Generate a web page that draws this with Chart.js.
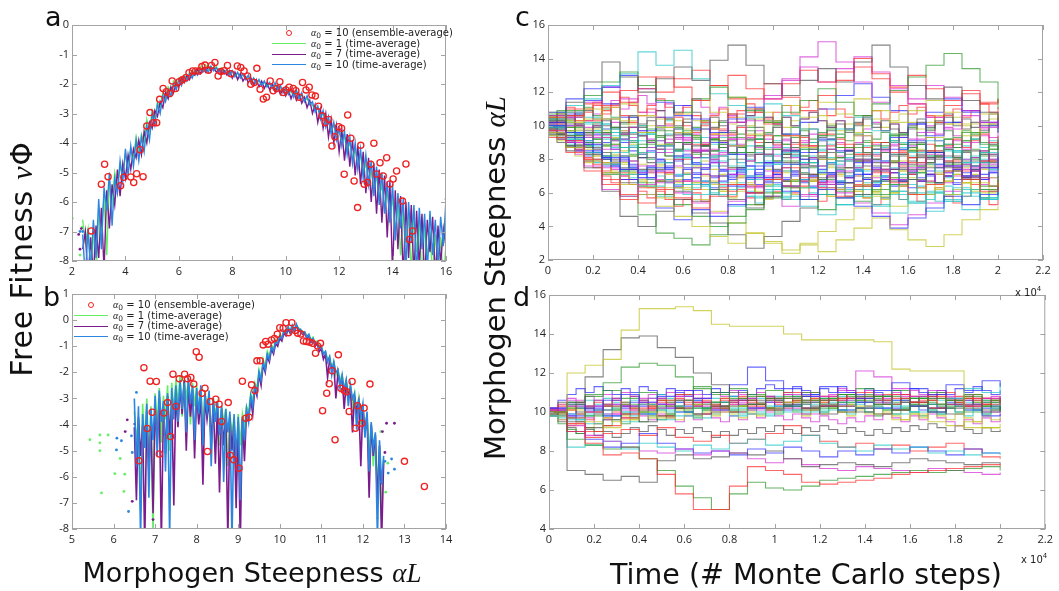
<!DOCTYPE html>
<html>
<head>
<meta charset="utf-8">
<script src="https://cdn.jsdelivr.net/npm/chart.js@4.4.0/dist/chart.umd.min.js"></script>
<style>
  body { margin:0; background:#fff; }
  #wrap { position:relative; width:1059px; height:591px; overflow:hidden; font-family:"DejaVu Sans", sans-serif; color:#111; }
  canvas { position:absolute; }
  .lbl { position:absolute; white-space:nowrap; font-size:27px; line-height:1; }
  .rot { transform:translate(-50%,-50%) rotate(-90deg); }
  .ctr { transform:translate(-50%,-50%); }
  .math { font-family:"Liberation Serif", serif; font-style:italic; }
  .panel { position:absolute; font-size:27px; line-height:1; }
  .leg { position:absolute; font-size:10px; color:#222; }
  .leg .row { height:10.5px; line-height:10.5px; display:flex; align-items:center; white-space:nowrap; }
  .leg .smp { width:34px; margin-right:5px; display:flex; justify-content:center; align-items:center; }
  .leg .ln { width:34px; height:0; border-top:1.5px solid; }
  .leg .ring { width:4px; height:4px; border:1.3px solid #ee2222; border-radius:50%; }
  .leg sub { font-size:0.75em; vertical-align:-2px; line-height:0; }
  .expo { position:absolute; font-size:10px; color:#222; white-space:nowrap; }
  .expo sup { font-size:7px; vertical-align:5px; line-height:0; }
</style>
</head>
<body>
<div id="wrap">
  <canvas id="cA" width="420" height="275" style="left:40px;top:10px"></canvas>
  <canvas id="cB" width="420" height="272" style="left:40px;top:282px"></canvas>
  <canvas id="cC" width="541" height="275" style="left:515px;top:10px"></canvas>
  <canvas id="cD" width="542" height="272" style="left:515px;top:284px"></canvas>

  <div class="panel" style="left:45px;top:3px">a</div>
  <div class="panel" style="left:43px;top:283px">b</div>
  <div class="panel" style="left:515px;top:3px">c</div>
  <div class="panel" style="left:513px;top:283px">d</div>

  <div class="lbl rot" style="left:22px;top:259px;font-size:30px;letter-spacing:0.8px">Free Fitness <span class="math">ν</span>Φ</div>
  <div class="lbl ctr" style="left:252px;top:573px">Morphogen Steepness <span class="math">αL</span></div>
  <div class="lbl rot" style="left:495px;top:278px;font-size:29px">Morphogen Steepness <span class="math">αL</span></div>
  <div class="lbl ctr" style="left:806px;top:575px;font-size:28.5px">Time (# Monte Carlo steps)</div>

  <div class="expo" style="left:1015px;top:287px">x 10<sup>4</sup></div>
  <div class="expo" style="left:1021px;top:554px">x 10<sup>4</sup></div>

  <div class="leg" style="left:272px;top:28px">
    <div class="row"><span class="smp"><span class="ring"></span></span><span><span class="math">α</span><sub>0</sub> = 10 (ensemble-average)</span></div>
    <div class="row"><span class="smp"><span class="ln" style="border-color:#66ee66"></span></span><span><span class="math">α</span><sub>0</sub> = 1 (time-average)</span></div>
    <div class="row"><span class="smp"><span class="ln" style="border-color:#7b1c8c"></span></span><span><span class="math">α</span><sub>0</sub> = 7 (time-average)</span></div>
    <div class="row"><span class="smp"><span class="ln" style="border-color:#2b86e0"></span></span><span><span class="math">α</span><sub>0</sub> = 10 (time-average)</span></div>
  </div>
  <div class="leg" style="left:74px;top:300px">
    <div class="row"><span class="smp"><span class="ring"></span></span><span><span class="math">α</span><sub>0</sub> = 10 (ensemble-average)</span></div>
    <div class="row"><span class="smp"><span class="ln" style="border-color:#66ee66"></span></span><span><span class="math">α</span><sub>0</sub> = 1 (time-average)</span></div>
    <div class="row"><span class="smp"><span class="ln" style="border-color:#7b1c8c"></span></span><span><span class="math">α</span><sub>0</sub> = 7 (time-average)</span></div>
    <div class="row"><span class="smp"><span class="ln" style="border-color:#2b86e0"></span></span><span><span class="math">α</span><sub>0</sub> = 10 (time-average)</span></div>
  </div>
</div>
<script>
// ---- panel a : free fitness, unimodal ----
var fitAStart = 2.4, fitAStep = 0.1;
var fitAGreen = [-6.6,-7.4,-6.9,-8.2,-7.0,-8.6,
  -6.4,-6.9,-5.8,-7.8,-5.3,-6.0,-5.0,-5.5,-4.8,-5.1,
  -4.4,-4.7,-4.2,-4.5,-3.8,-4.3,-3.7,-4.0,-3.2,-3.6,
  -2.9,-3.2,-2.6,-2.8,-2.3,-2.5,-2.1,-2.25,-1.9,-2.1,
  -1.8,-1.95,-1.7,-1.85,-1.6,-1.75,-1.5,-1.6,-1.4,-1.55,
  -1.35,-1.5,-1.4,-1.5,-1.4,-1.55,-1.45,-1.6,-1.5,-1.65,
  -1.6,-1.7,-1.65,-1.75,-1.7,-1.8,-1.75,-1.9,-1.8,-1.95,
  -1.9,-2.0,-1.95,-2.05,-2.0,-2.1,-2.05,-2.15,-2.1,-2.25,
  -2.2,-2.3,-2.25,-2.4,-2.3,-2.45,-2.35,-2.55,-2.5,-2.65,
  -2.7,-2.9,-2.8,-3.1,-3.0,-3.3,-3.2,-3.5,-3.4,-3.7,
  -3.6,-3.9,-3.8,-4.2,-4.0,-4.5,-4.2,-4.8,-4.4,-5.0,
  -4.7,-5.3,-4.9,-5.6,-5.1,-5.9,-5.4,-6.2,-5.6,-6.6,
  -5.8,-7.0,-6.1,-7.8,-6.3,-7.4,-6.4,-8.4,-6.5,-7.7,
  -6.7,-8.6,-6.8,-7.9,-7.0,-8.5,-7.1,-8.2,-7.2,-8.8,
  -7.4];
var fitAPurple = [-7.6,-7.0,-8.7,-7.2,-8.5,-6.8,
  -7.9,-6.2,-8.3,-5.6,-6.9,-5.4,-6.1,-4.9,-5.8,-4.7,
  -5.2,-4.4,-4.9,-4.2,-4.5,-3.9,-4.4,-3.6,-4.0,-3.3,
  -3.5,-2.9,-3.1,-2.6,-2.8,-2.3,-2.5,-2.1,-2.3,-1.95,
  -2.1,-1.8,-1.95,-1.7,-1.85,-1.6,-1.7,-1.5,-1.65,-1.45,
  -1.6,-1.4,-1.55,-1.45,-1.6,-1.5,-1.65,-1.55,-1.7,-1.55,
  -1.8,-1.6,-1.85,-1.65,-1.9,-1.75,-1.95,-1.8,-2.05,-1.85,
  -2.1,-1.9,-2.15,-1.95,-2.2,-2.0,-2.25,-2.1,-2.35,-2.15,
  -2.4,-2.2,-2.5,-2.25,-2.55,-2.35,-2.65,-2.45,-2.8,-2.55,
  -3.0,-2.7,-3.3,-2.85,-3.5,-3.0,-3.8,-3.2,-4.0,-3.4,
  -4.3,-3.55,-4.6,-3.7,-4.8,-3.9,-5.1,-4.1,-5.4,-4.3,
  -5.7,-4.5,-6.0,-4.7,-6.4,-4.9,-6.7,-5.1,-7.2,-5.3,
  -8.4,-5.6,-7.6,-5.8,-8.6,-6.0,-7.9,-6.1,-8.5,-6.3,
  -8.2,-6.4,-8.7,-6.6,-7.7,-6.5,-8.6,-6.8,-8.1,-6.9,
  -7.5];
var fitABlue = [-7.1,-8.6,-6.9,-8.4,-6.6,-7.9,
  -5.9,-7.6,-5.5,-6.3,-5.0,-6.8,-5.2,-5.7,-4.6,-5.3,
  -4.2,-5.1,-4.1,-4.8,-3.9,-4.6,-3.8,-4.3,-3.4,-3.9,
  -3.0,-3.4,-2.7,-3.0,-2.4,-2.6,-2.2,-2.4,-2.0,-2.2,
  -1.85,-2.05,-1.75,-1.9,-1.65,-1.8,-1.55,-1.7,-1.5,-1.6,
  -1.45,-1.6,-1.4,-1.55,-1.45,-1.6,-1.5,-1.65,-1.5,-1.7,
  -1.55,-1.75,-1.6,-1.8,-1.65,-1.85,-1.7,-1.95,-1.8,-2.0,
  -1.85,-2.05,-1.9,-2.1,-1.95,-2.15,-1.95,-2.2,-2.05,-2.3,
  -2.1,-2.35,-2.15,-2.45,-2.2,-2.5,-2.3,-2.6,-2.4,-2.7,
  -2.6,-2.95,-2.75,-3.2,-2.9,-3.45,-3.1,-3.7,-3.3,-3.9,
  -3.5,-4.1,-3.6,-4.4,-3.8,-4.7,-4.0,-4.9,-4.2,-5.2,
  -4.4,-5.4,-4.6,-5.8,-4.8,-6.1,-5.0,-6.4,-5.3,-6.7,
  -5.4,-7.3,-5.7,-6.9,-5.9,-8.3,-6.0,-7.4,-6.1,-8.5,
  -6.2,-7.6,-6.4,-8.4,-6.3,-7.8,-6.6,-8.2,-6.5,-7.5,
  -5.9];
var strayAGreen = [[2.01,-6.55],[2.3,-7.8],[2.38,-6.85]];
var strayAPurple = [[2.25,-7.1],[2.3,-7.6],[2.35,-6.9]];
var strayABlue = [[2.3,-7.0],[2.4,-7.0],[16.0,-5.9]];
var ensAx = [2.72,3.10,3.22,3.35,3.82,3.94,4.20,4.31,4.42,4.55,4.66,4.80,4.92,5.05,5.17,5.28,5.41,5.53,5.66,5.75,
  5.88,6.01,6.13,6.26,6.38,6.51,6.63,6.76,6.86,6.98,7.11,7.22,7.35,7.47,7.57,7.70,7.82,7.95,8.19,8.32,
  8.44,8.57,8.69,8.82,8.92,9.04,9.16,9.28,9.42,9.53,9.66,9.78,9.91,10.01,10.13,10.28,10.38,10.51,10.63,10.76,
  10.88,10.98,11.11,11.23,11.36,11.48,11.61,11.73,11.84,11.98,12.09,12.19,12.32,12.44,12.56,12.69,12.81,12.94,13.06,13.18,
  13.30,13.40,13.53,13.65,13.78,13.90,14.02,14.15,14.37,14.50,14.63,14.75];
var ensAy = [-6.98,-5.40,-4.72,-5.14,-5.45,-5.16,-5.15,-5.34,-5.04,-4.23,-5.14,-3.42,-2.97,-3.31,-3.31,-2.52,-2.15,-2.26,-2.32,-1.90,
  -2.15,-1.92,-1.86,-1.79,-1.62,-1.56,-1.56,-1.56,-1.41,-1.36,-1.53,-1.37,-1.27,-1.73,-1.58,-1.55,-1.37,-1.65,-1.39,-1.44,
  -1.56,-1.73,-2.01,-1.95,-1.47,-2.18,-2.51,-2.45,-1.90,-2.23,-2.15,-1.92,-2.29,-2.20,-2.11,-2.15,-2.23,-2.45,-1.95,-2.20,
  -2.11,-2.37,-2.41,-2.75,-3.08,-3.31,-3.20,-4.10,-3.79,-3.45,-3.50,-5.06,-3.05,-3.84,-5.29,-6.19,-4.08,-5.40,-5.34,-4.72,
  -4.01,-5.05,-4.67,-5.12,-4.50,-5.39,-5.22,-4.95,-5.97,-4.71,-7.27,-6.98];

// ---- panel b : free fitness, bimodal ----
var fitBStart = 6.5, fitBStep = 0.05;
var fitBGreen = [-3.5,-4.6,-3.8,-7.3,-3.2,-4.8,-3.0,-5.5,-3.3,-8.2,
  -2.8,-4.0,-2.6,-4.7,-2.9,-3.8,-2.5,-5.0,-2.4,-3.5,
  -2.3,-3.2,-2.1,-3.7,-2.2,-3.0,-2.3,-4.0,-2.4,-3.3,
  -2.5,-3.5,-2.6,-4.2,-2.7,-3.4,-2.9,-4.9,-3.0,-3.6,
  -3.2,-4.8,-3.3,-3.9,-3.4,-5.6,-3.6,-4.3,-3.7,-6.1,
  -3.6,-4.8,-3.6,-4.1,-3.3,-3.5,-2.8,-3.1,-2.4,-2.6,
  -1.9,-2.2,-1.5,-1.8,-1.2,-1.4,-0.95,-1.1,-0.75,-0.85,
  -0.55,-0.65,-0.4,-0.5,-0.3,-0.4,-0.2,-0.35,-0.2,-0.3,
  -0.35,-0.45,-0.45,-0.6,-0.55,-0.75,-0.65,-0.9,-0.8,-1.0,
  -1.0,-1.3,-1.2,-1.5,-1.4,-1.8,-1.6,-2.1,-1.9,-2.3,
  -2.1,-2.6,-2.3,-2.9,-2.5,-3.3,-2.8,-3.6,-3.0,-4.0,
  -3.3,-4.4,-3.6,-5.1,-4.0,-5.6,-4.4,-6.4,-4.8,-7.6,-5.3];
var fitBPurple = [-4.1,-6.9,-3.7,-5.2,-4.0,-8.6,-3.5,-5.9,-3.9,-7.4,
  -3.3,-4.8,-3.0,-8.5,-3.4,-5.1,-2.9,-4.4,-3.2,-7.1,
  -2.7,-4.1,-2.6,-3.6,-2.3,-5.0,-2.5,-3.7,-2.7,-5.3,
  -2.8,-4.0,-2.9,-6.3,-3.0,-3.8,-3.1,-4.7,-3.2,-5.5,
  -3.3,-6.6,-3.4,-4.8,-3.6,-8.4,-3.7,-5.0,-3.8,-7.2,
  -3.9,-8.6,-3.7,-5.4,-3.5,-3.8,-3.0,-3.6,-2.6,-2.9,
  -2.1,-2.5,-1.7,-2.0,-1.4,-1.6,-1.1,-1.3,-0.9,-1.0,
  -0.7,-0.8,-0.5,-0.6,-0.35,-0.5,-0.25,-0.45,-0.2,-0.4,
  -0.4,-0.55,-0.5,-0.7,-0.6,-0.85,-0.75,-1.0,-0.9,-1.2,
  -1.1,-1.5,-1.3,-2.2,-1.5,-1.9,-1.7,-3.0,-2.0,-2.5,
  -2.2,-3.4,-2.4,-2.9,-2.6,-4.3,-2.9,-3.5,-3.1,-5.6,
  -3.3,-4.3,-3.6,-6.8,-4.0,-5.2,-4.4,-7.0,-4.8,-8.5,-5.4];
var fitBBlue = [-3.0,-5.6,-3.3,-8.4,-3.6,-4.9,-3.2,-6.8,-3.4,-4.6,
  -2.9,-5.2,-2.7,-3.9,-3.1,-5.8,-2.8,-8.3,-2.6,-3.8,
  -2.5,-3.9,-2.3,-3.4,-2.4,-4.3,-2.2,-3.2,-2.5,-4.6,
  -2.6,-3.6,-2.5,-4.8,-2.8,-3.5,-2.7,-5.6,-3.0,-3.9,
  -3.1,-4.4,-3.3,-6.2,-3.4,-4.3,-3.5,-8.5,-3.6,-5.2,
  -3.7,-6.9,-3.8,-4.6,-3.4,-3.9,-2.9,-3.3,-2.5,-2.8,
  -2.0,-2.3,-1.6,-1.9,-1.3,-1.5,-1.0,-1.2,-0.8,-0.9,
  -0.6,-0.7,-0.4,-0.55,-0.25,-0.45,-0.2,-0.4,-0.15,-0.35,
  -0.35,-0.5,-0.45,-0.65,-0.55,-0.8,-0.7,-0.95,-0.85,-1.1,
  -1.0,-1.3,-1.2,-1.6,-1.4,-2.1,-1.6,-2.0,-1.9,-2.6,
  -2.1,-2.7,-2.3,-3.3,-2.5,-3.0,-2.8,-4.2,-3.0,-3.7,
  -3.2,-4.5,-3.5,-5.8,-3.9,-4.9,-4.3,-8.4,-4.6,-6.3,-5.2];
var strayBGreen = [[5.0,-5.86],[5.43,-4.58],[5.67,-4.4],[5.67,-4.7],[5.67,-5.0],[5.71,-6.62],[5.87,-4.4],[6.03,-5.88],
  [6.16,-5.3],[6.25,-6.56],[6.27,-5.9],[12.35,-7.58],[12.43,-4.27],[12.55,-6.59],[12.6,-5.48]];
var strayBPurple = [[6.28,-4.27],[6.33,-3.82],[6.45,-6.94],[6.51,-3.98],[6.95,-7.64],[12.47,-4.27],[12.53,-5.07],[12.57,-3.95],[12.76,-3.95]];
var strayBBlue = [[6.07,-4.97],[6.08,-4.52],[6.19,-4.62],[6.36,-7.33],[6.43,-4.43],[6.45,-5.07],[6.55,-2.77],
  [12.45,-6.18],[12.53,-5.41],[12.61,-5.86],[12.69,-5.32],[12.76,-5.71]];
var ensBx = [6.73,6.88,7.03,6.93,6.81,6.61,7.10,7.21,7.30,7.37,7.43,7.50,7.58,7.71,7.78,7.86,7.93,7.99,8.06,8.13,
  8.20,8.26,8.33,8.46,8.54,8.60,8.76,8.81,8.89,9.02,9.10,9.18,9.26,9.32,9.40,9.45,9.53,9.60,9.66,9.72,
  9.80,9.87,9.94,10.00,10.08,10.15,10.21,10.29,10.37,10.43,10.51,10.57,10.64,10.72,10.79,10.86,10.91,10.98,11.03,11.13,
  11.19,11.26,11.33,11.41,11.47,11.55,11.61,11.67,11.74,11.82,11.87,11.97,12.03,12.17,13.00,13.48];
var ensBy = [-1.82,-2.34,-2.35,-3.53,-4.15,-5.39,-5.13,-3.56,-3.16,-4.46,-2.07,-3.31,-2.25,-2.07,-2.25,-2.20,-2.45,-1.21,-1.42,-2.80,
  -2.61,-5.03,-3.12,-3.03,-3.22,-3.88,-3.16,-5.18,-5.35,-5.67,-2.34,-3.76,-3.72,-2.48,-2.70,-1.56,-1.56,-0.95,-0.82,-0.92,
  -0.76,-0.70,-0.54,-0.29,-0.31,-0.10,-0.48,-0.10,-0.40,-0.50,-0.53,-0.80,-0.82,-0.85,-0.89,-1.27,-0.99,-0.89,-3.47,-2.80,
  -2.44,-1.94,-4.58,-1.33,-2.61,-2.70,-2.74,-3.50,-2.35,-4.14,-3.28,-3.95,-3.37,-2.45,-5.41,-6.37];

// ---- panels c, d : trajectories of alpha*L against Monte Carlo time ----
var mcTime = [0,800,1600,2400,3200,4000,4800,5600,6400,7200,8000,8800,9600,10400,11200,12000,12800,13600,14400,15200,16000,16800,17600,18400,19200,20000];
var mcTimeFine = [0,400,800,1200,1600,2000,2400,2800,3200,3600,4000,4400,4800,5200,5600,6000,6400,6800,7200,7600,
  8000,8400,8800,9200,9600,10000,10400,10800,11200,11600,12000,12400,12800,13200,13600,14000,14400,14800,15200,15600,
  16000,16400,16800,17200,17600,18000,18400,18800,19200,19600,20000];
var walkColors = ['rgba(40,40,255,0.7)','rgba(40,150,40,0.7)','rgba(255,40,40,0.7)','rgba(30,195,195,0.7)','rgba(210,40,210,0.7)','rgba(195,195,40,0.75)','rgba(80,80,80,0.7)'];
var walksC = [
  [10.2,9.6,8.9,8.1,7.4,6.9,7.5,8.2,7.7,7.0,6.4,6.9,7.8,8.5,8.0,7.2,6.6,7.1,7.9,8.6,9.1,8.4,7.6,7.0,7.5,8.1],
  [9.8,10.9,11.8,12.6,13.2,12.4,11.5,10.8,11.6,12.3,11.7,10.9,10.2,10.8,11.5,12.2,11.4,10.6,11.3,12.1,12.9,13.6,14.3,13.4,12.6,11.0],
  [10.5,9.1,8.0,6.8,5.9,5.4,6.2,5.7,5.1,5.8,6.5,6.0,6.8,7.5,6.9,6.3,5.8,6.4,7.2,6.6,5.9,6.5,7.3,6.8,6.1,6.6],
  [9.9,10.8,11.6,12.4,13.1,14.4,13.6,14.5,12.8,11.9,11.2,10.5,11.3,10.6,9.8,9.1,9.8,10.5,9.7,9.0,8.4,9.1,8.5,7.8,8.4,7.6],
  [10.1,9.0,7.6,6.2,5.8,6.5,7.3,6.7,7.5,8.3,9.2,10.3,11.6,12.8,14.1,15.0,13.8,12.6,11.4,12.2,11.3,10.5,9.8,10.6,9.9,10.3],
  [9.6,8.7,7.9,7.2,6.5,5.9,5.2,4.6,4.0,3.4,3.0,3.6,3.1,2.6,2.9,2.5,3.2,3.9,4.5,3.8,3.2,2.8,3.5,4.4,5.0,5.2],
  [10.3,11.4,12.6,13.8,12.9,12.0,12.8,13.5,12.7,13.9,14.8,13.6,12.5,11.8,12.7,13.4,12.6,13.8,14.8,13.5,12.4,11.6,12.3,11.5,10.8,10.2],
  [10.0,9.3,8.5,7.6,6.8,5.9,5.1,4.4,5.0,4.6,5.3,6.0,6.6,6.1,5.6,6.2,5.7,5.2,4.6,3.9,4.5,5.1,5.8,5.3,5.9,6.4],
  [10.4,9.4,8.3,7.1,5.8,4.7,3.6,3.3,2.9,3.5,4.2,5.0,5.7,6.3,5.6,5.0,5.7,6.4,5.9,6.5,7.2,6.6,7.3,6.8,6.2,6.8],
  [9.7,10.6,11.3,12.0,11.4,12.2,12.9,12.3,11.5,12.4,13.0,12.2,11.6,12.5,13.3,12.6,13.2,14.0,13.1,12.3,13.0,12.2,11.5,12.1,11.3,11.6],
  [10.0,9.2,8.4,7.7,7.1,6.4,5.8,6.5,5.9,6.6,7.3,6.8,6.2,5.6,6.3,5.9,5.3,5.8,5.2,5.9,5.4,6.1,5.5,6.0,5.6,6.3],
  [10.6,10.0,9.3,8.6,7.9,7.2,6.6,6.0,5.4,4.8,5.5,6.3,7.0,6.4,5.8,6.5,7.3,8.0,7.4,6.8,7.5,8.3,7.6,7.0,7.7,8.4],
  [9.4,10.2,11.0,10.4,11.3,10.6,9.9,10.7,11.5,10.8,11.7,11.0,10.3,11.2,10.5,11.4,10.7,11.6,10.9,10.2,10.9,11.5,10.8,10.1,10.7,10.3],
  [9.9,8.8,7.5,6.1,4.6,4.0,4.9,5.6,4.8,4.2,3.5,2.7,3.4,4.3,5.1,5.9,6.6,5.9,6.7,7.4,6.8,7.5,8.2,7.6,8.3,8.8],
  [10.8,11.6,12.2,11.3,10.5,9.7,10.5,11.2,10.4,9.6,10.4,11.1,10.3,9.5,10.2,11.0,11.8,12.5,11.7,10.9,10.1,10.8,11.6,10.8,10.0,10.5],
  [9.5,8.8,9.6,8.9,8.2,8.9,9.7,9.0,8.3,9.1,8.4,9.2,8.6,7.9,8.6,9.4,8.7,8.0,8.8,9.5,8.9,8.2,8.9,9.6,8.9,9.3],
  [10.2,11.0,10.3,11.2,12.1,12.9,12.0,12.8,13.3,12.4,11.6,10.8,10.1,9.4,8.8,9.5,8.9,8.3,9.0,8.4,7.8,8.5,7.9,7.3,7.9,7.5],
  [10.3,9.5,10.2,9.4,8.7,9.5,8.8,8.1,7.5,8.2,7.6,7.0,7.7,8.4,7.8,7.2,7.9,7.3,6.7,6.1,5.5,4.9,5.6,6.2,5.7,6.2],
  [9.8,9.1,8.3,7.5,6.8,7.6,8.4,9.2,8.5,9.4,10.2,11.0,11.8,12.7,13.5,12.6,13.4,14.1,13.2,12.4,11.6,12.4,11.7,10.9,10.2,10.8],
  [10.1,9.3,8.6,7.8,7.1,6.4,5.7,6.3,5.6,4.9,4.2,3.6,3.0,2.4,3.0,3.7,4.4,5.1,5.8,5.2,5.9,6.5,5.9,6.6,6.0,6.6],
  [9.6,8.7,7.9,7.2,6.6,7.4,6.7,6.1,5.5,6.2,5.6,5.1,5.8,6.4,7.1,6.5,7.2,7.9,7.3,6.7,7.4,8.1,7.5,6.9,7.6,7.2],
  [10.0,10.7,11.5,12.3,13.0,12.2,11.4,10.6,9.8,9.0,8.3,7.6,6.9,7.7,8.4,9.2,8.5,7.8,8.6,9.3,10.1,9.4,10.2,10.9,10.2,9.6],
  [10.7,9.9,9.0,8.2,7.3,6.6,5.9,5.3,4.6,4.0,4.6,5.3,6.0,6.7,7.5,6.8,6.1,5.5,6.2,6.9,7.6,8.4,7.7,7.0,6.4,7.0],
  [9.3,8.4,7.3,6.5,5.6,6.3,7.2,8.0,8.9,9.8,10.7,11.6,12.5,11.7,10.9,11.8,12.7,13.5,12.8,12.0,11.3,10.5,11.2,11.9,11.4,11.6],
  [10.4,11.2,10.5,9.8,9.1,8.4,7.8,7.1,6.5,5.9,5.2,5.8,6.4,5.8,5.2,4.7,5.3,5.9,5.3,4.8,5.4,6.0,5.5,5.0,5.6,6.1],
  [9.7,10.5,11.4,12.3,11.6,10.8,10.0,9.3,8.6,7.8,7.1,6.4,5.8,5.2,5.9,6.6,6.0,5.4,4.8,4.1,4.7,5.4,6.1,6.8,7.5,8.1],
  [10.5,9.7,10.4,11.1,10.3,9.6,8.9,9.6,10.3,9.5,8.8,9.5,10.2,9.4,8.7,8.0,8.7,9.4,8.6,7.9,8.6,9.3,10.1,9.4,10.1,10.7],
  [10.0,9.4,8.7,8.0,7.4,8.1,8.8,9.5,8.8,8.2,7.5,8.3,9.0,8.3,7.6,6.9,7.5,8.2,7.6,8.3,9.0,8.4,7.8,8.5,7.9,8.4]
];
var walksCFine = [
  [10.0,9.7,9.3,9.6,9.1,8.8,9.2,8.7,8.4,8.8,8.3,8.0,8.4,8.9,8.5,8.1,7.7,8.1,7.6,7.9,8.3,7.8,7.4,7.8,8.2,7.7,7.3,7.7,7.2,6.9,7.3,7.8,7.4,7.0,7.4,6.9,6.6,7.0,7.5,7.1,6.8,7.2,7.7,7.3,6.9,7.3,7.8,8.2,7.8,7.4,7.8],
  [10.4,10.0,10.5,10.1,9.6,10.0,9.5,9.1,9.5,9.9,9.4,9.0,8.6,9.0,9.4,8.9,8.5,8.9,9.3,9.7,9.2,8.8,9.2,8.7,8.3,8.7,9.1,8.6,9.0,9.5,9.1,8.6,8.2,8.6,9.0,9.4,8.9,8.5,8.9,9.3,8.8,9.2,9.6,9.1,8.7,9.1,8.6,9.0,9.4,8.9,9.2],
  [9.6,9.1,8.7,8.2,7.8,8.2,7.7,7.2,6.8,7.2,6.7,6.3,6.7,7.1,6.6,6.2,6.6,7.0,6.5,6.1,6.5,6.9,6.4,6.0,6.4,6.8,7.2,6.7,6.3,6.7,6.2,5.8,6.2,6.6,6.1,5.7,6.1,6.5,6.0,6.4,6.8,6.3,5.9,6.3,6.7,7.1,6.6,6.2,6.6,6.2,6.5],
  [10.2,10.6,10.1,10.5,10.9,10.4,10.0,10.4,9.9,9.5,9.9,10.3,9.8,9.4,9.8,10.2,9.7,10.1,10.5,10.0,9.6,10.0,10.4,9.9,9.5,9.9,9.4,9.0,9.4,9.8,9.3,9.7,10.1,9.6,10.0,10.4,9.9,10.3,9.8,9.4,9.8,10.2,9.7,10.1,10.5,10.0,10.4,9.9,10.3,10.7,10.2],
  [9.9,9.4,9.0,8.5,8.9,8.4,8.0,7.6,8.0,7.5,7.1,7.5,7.9,7.4,7.0,7.4,6.9,6.5,6.9,7.3,6.8,7.2,7.6,7.1,6.7,7.1,7.5,7.0,6.6,7.0,7.4,7.8,7.3,6.9,7.3,6.8,6.4,6.8,7.2,6.7,6.3,6.7,7.1,6.6,7.0,7.4,6.9,7.3,6.8,7.2,6.9],
  [10.6,10.2,9.7,10.1,9.6,9.2,8.8,9.2,8.7,8.3,8.7,9.1,8.6,8.2,8.6,9.0,9.4,8.9,8.5,8.9,9.3,8.8,8.4,8.8,8.3,7.9,8.3,8.7,8.2,7.8,8.2,8.6,8.1,8.5,8.9,8.4,8.0,8.4,7.9,8.3,8.7,8.2,7.8,8.2,8.6,8.1,8.5,8.0,8.4,8.8,8.4],
  [9.8,10.3,10.8,10.3,10.8,11.2,10.7,11.1,10.6,10.2,10.6,11.0,10.5,10.1,10.5,10.0,9.6,10.0,9.5,9.1,9.5,9.9,9.4,9.0,9.4,8.9,8.5,8.9,9.3,8.8,8.4,8.8,9.2,8.7,8.3,8.7,8.2,8.6,9.0,8.5,8.1,8.5,8.9,8.4,8.8,9.2,8.7,9.1,9.5,9.0,9.4],
  [10.1,9.6,9.2,8.7,8.3,7.8,8.2,7.7,7.3,6.9,7.3,6.8,6.4,6.8,6.3,5.9,6.3,6.7,6.2,5.8,6.2,6.6,6.1,5.7,6.1,6.5,6.0,6.4,6.8,6.3,5.9,6.3,6.7,6.2,5.8,6.2,6.6,7.0,6.5,6.1,6.5,6.0,5.6,6.0,6.4,5.9,6.3,5.8,6.2,5.7,6.1],
  [9.5,9.9,9.4,9.0,9.4,8.9,9.3,8.8,9.2,8.7,8.3,8.7,9.1,8.6,9.0,8.5,8.1,8.5,8.0,8.4,8.8,8.3,7.9,8.3,7.8,8.2,8.6,8.1,7.7,8.1,7.6,7.2,7.6,8.0,7.5,7.9,8.3,7.8,7.4,7.8,7.3,7.7,8.1,7.6,7.2,7.6,8.0,7.5,7.9,8.3,7.9],
  [10.3,9.9,10.3,9.8,9.4,9.8,9.3,8.9,8.5,8.9,8.4,8.0,7.6,8.0,7.5,7.1,7.5,7.9,7.4,7.0,6.6,7.0,6.5,6.1,6.5,6.9,6.4,6.8,7.2,6.7,7.1,7.5,7.0,6.6,7.0,6.5,6.1,6.5,6.9,7.3,6.8,7.2,7.6,7.1,6.7,7.1,6.6,7.0,7.4,6.9,7.3],
  [9.7,9.2,9.6,10.0,9.5,9.9,10.3,9.8,10.2,10.6,10.1,10.5,10.9,10.4,10.0,10.4,10.8,10.3,9.9,10.3,10.7,10.2,10.6,11.0,10.5,10.1,10.5,10.0,10.4,10.8,10.3,9.9,10.3,9.8,10.2,10.6,10.1,9.7,10.1,9.6,10.0,10.4,9.9,10.3,10.7,10.2,9.8,10.2,9.7,10.1,9.8],
  [10.0,9.5,9.1,9.5,9.0,8.6,8.2,7.8,8.2,7.7,7.3,6.9,7.3,6.8,6.4,6.8,7.2,6.7,6.3,6.7,7.1,7.5,7.0,7.4,7.8,7.3,6.9,7.3,6.8,6.4,6.8,7.2,6.7,6.3,6.7,7.1,7.5,7.0,7.4,7.8,7.3,6.9,7.3,7.7,7.2,6.8,7.2,7.6,7.1,7.5,7.9],
  [10.5,10.9,10.4,10.0,9.6,10.0,9.5,9.9,9.4,9.0,9.4,9.8,9.3,8.9,9.3,9.7,9.2,8.8,9.2,9.6,9.1,9.5,9.9,9.4,9.0,9.4,8.9,9.3,9.7,9.2,9.6,10.0,9.5,9.1,9.5,9.0,8.6,9.0,9.4,8.9,8.5,8.9,9.3,8.8,9.2,8.7,9.1,9.5,9.0,8.6,9.0],
  [9.9,9.5,9.0,8.6,8.1,7.7,7.3,7.7,7.2,6.8,6.4,6.8,6.3,5.9,6.3,6.7,6.2,6.6,7.0,6.5,6.1,6.5,6.0,6.4,6.8,7.2,6.7,6.3,6.7,7.1,6.6,7.0,7.4,6.9,6.5,6.9,7.3,6.8,7.2,7.6,7.1,6.7,7.1,6.6,7.0,7.4,6.9,6.5,6.9,6.4,6.8],
  [10.2,9.8,10.2,10.6,10.1,9.7,10.1,9.6,9.2,9.6,10.0,9.5,9.9,10.3,9.8,9.4,9.8,9.3,8.9,9.3,8.8,8.4,8.8,9.2,8.7,9.1,8.6,8.2,8.6,9.0,8.5,8.9,8.4,8.0,8.4,8.8,8.3,8.7,9.1,8.6,9.0,8.5,8.1,8.5,8.9,8.4,8.8,9.2,8.7,9.1,8.7],
  [9.6,9.2,8.8,8.3,7.9,8.3,7.8,7.4,7.0,7.4,6.9,7.3,6.8,7.2,7.6,7.1,6.7,7.1,6.6,7.0,7.4,6.9,6.5,6.9,7.3,6.8,6.4,6.8,7.2,6.7,6.3,6.7,6.2,6.6,7.0,6.5,6.9,7.3,6.8,6.4,6.8,6.3,6.7,7.1,6.6,7.0,7.4,6.9,6.5,6.9,6.6],
  [10.8,10.3,9.9,10.3,9.8,10.2,9.7,9.3,9.7,10.1,9.6,10.0,10.4,9.9,10.3,9.8,9.4,9.8,10.2,9.7,10.1,10.5,10.0,10.4,10.8,10.3,9.9,10.3,9.8,10.2,10.6,10.1,9.7,10.1,9.6,10.0,10.4,9.9,10.3,10.7,10.2,9.8,10.2,10.6,10.1,10.5,10.0,9.6,10.0,10.4,10.0],
  [9.4,9.0,8.5,8.9,8.4,8.0,8.4,7.9,7.5,7.9,8.3,7.8,7.4,7.8,8.2,7.7,8.1,8.5,8.0,7.6,8.0,7.5,7.9,8.3,7.8,7.4,7.8,7.3,7.7,8.1,7.6,8.0,8.4,7.9,7.5,7.9,7.4,7.8,8.2,7.7,8.1,7.6,8.0,8.4,7.9,7.5,7.9,7.4,7.8,8.2,7.8],
  [10.1,10.5,10.0,9.6,9.1,9.5,9.0,8.6,9.0,8.5,8.1,8.5,8.0,7.6,8.0,7.5,7.1,7.5,7.9,7.4,7.0,7.4,6.9,6.5,6.9,7.3,6.8,7.2,6.7,6.3,6.7,7.1,6.6,7.0,7.4,6.9,6.5,6.9,6.4,6.8,7.2,6.7,7.1,7.5,7.0,6.6,7.0,7.4,6.9,7.3,7.7],
  [9.8,9.3,9.7,9.2,8.8,9.2,9.6,9.1,9.5,9.9,9.4,9.0,9.4,8.9,8.5,8.9,9.3,8.8,9.2,8.7,8.3,8.7,9.1,8.6,9.0,9.4,8.9,8.5,8.9,8.4,8.8,9.2,8.7,8.3,8.7,9.1,8.6,9.0,9.4,8.9,8.5,8.9,8.4,8.8,9.2,8.7,9.1,8.6,8.2,8.6,9.0],
  [10.3,10.7,11.1,10.6,11.0,11.4,10.9,11.3,11.7,11.2,10.8,11.2,11.6,11.1,10.7,11.1,10.6,10.2,10.6,11.0,10.5,10.9,11.3,10.8,10.4,10.8,11.2,10.7,11.1,11.5,11.0,10.6,11.0,10.5,10.1,10.5,10.9,10.4,10.8,11.2,10.7,11.1,10.6,10.2,10.6,11.0,10.5,10.9,11.3,10.8,11.1],
  [9.8,9.4,8.9,9.3,8.8,8.4,8.0,8.4,7.9,7.5,7.1,7.5,7.0,6.6,7.0,6.5,6.9,6.4,6.0,6.4,5.9,6.3,5.8,5.4,5.8,6.2,5.7,6.1,5.6,6.0,6.4,5.9,6.3,5.8,6.2,6.6,6.1,5.7,6.1,5.6,6.0,6.4,5.9,5.5,5.9,6.3,5.8,6.2,5.7,6.1,5.8],
  [10.0,10.4,9.9,9.5,9.9,9.4,9.8,10.2,9.7,9.3,9.7,9.2,8.8,9.2,9.6,9.1,9.5,9.0,8.6,9.0,9.4,8.9,9.3,9.7,9.2,8.8,9.2,8.7,9.1,8.6,8.2,8.6,9.0,8.5,8.9,8.4,8.0,8.4,8.8,8.3,8.7,8.2,7.8,8.2,8.6,8.1,7.7,8.1,8.5,8.0,8.4],
  [10.5,10.0,9.6,9.1,8.7,8.2,7.8,7.3,7.7,7.2,6.8,7.2,6.7,6.3,6.7,7.1,6.6,6.2,6.6,6.1,5.7,6.1,6.5,6.0,5.6,6.0,6.4,5.9,6.3,6.7,6.2,5.8,6.2,6.6,6.1,6.5,6.0,5.6,6.0,6.4,5.9,6.3,6.7,6.2,5.8,6.2,6.6,6.1,5.7,6.1,6.5],
  [9.7,10.1,10.5,10.0,9.6,10.0,10.4,9.9,9.5,9.9,9.4,9.0,9.4,8.9,8.5,8.9,8.4,8.8,9.2,8.7,8.3,8.7,8.2,7.8,8.2,8.6,8.1,8.5,8.0,7.6,8.0,8.4,7.9,7.5,7.9,8.3,7.8,7.4,7.8,8.2,7.7,8.1,8.5,8.0,7.6,8.0,8.4,7.9,8.3,7.8,8.2],
  [10.1,9.6,9.1,8.6,8.2,8.6,8.1,7.7,8.1,7.6,7.2,7.6,8.0,7.5,7.9,8.3,7.8,7.4,7.8,7.3,6.9,7.3,6.8,7.2,7.6,7.1,6.7,7.1,7.5,7.0,6.6,7.0,6.5,6.9,7.3,6.8,6.4,6.8,7.2,6.7,7.1,7.5,7.0,6.6,7.0,6.5,6.9,7.3,6.8,7.2,6.8],
  [10.4,10.8,10.3,10.7,11.1,10.6,11.0,10.5,10.1,10.5,10.0,9.6,10.0,10.4,9.9,9.5,9.9,10.3,9.8,10.2,9.7,9.3,9.7,9.2,9.6,10.0,9.5,9.9,9.4,9.0,9.4,9.8,9.3,9.7,10.1,9.6,9.2,9.6,9.1,9.5,9.9,9.4,9.8,10.2,9.7,9.3,9.7,9.2,9.6,10.0,9.6],
  [9.9,9.5,9.0,8.5,8.0,7.5,7.0,6.6,7.0,6.5,6.1,5.7,6.1,5.6,5.2,5.6,6.0,5.5,5.9,6.3,5.8,6.2,5.7,5.3,5.7,6.1,5.6,6.0,6.4,5.9,5.5,5.9,6.3,5.8,6.2,5.7,5.3,5.7,6.1,5.6,6.0,5.5,5.9,6.3,5.8,5.4,5.8,6.2,5.7,5.3,5.6],
  [10.2,9.8,10.2,9.7,9.3,9.7,10.1,9.6,9.2,9.6,9.1,8.7,9.1,9.5,9.0,8.6,9.0,8.5,8.1,8.5,8.9,8.4,8.0,8.4,7.9,8.3,8.7,8.2,7.8,8.2,8.6,8.1,7.7,8.1,7.6,8.0,8.4,7.9,8.3,8.7,8.2,7.8,8.2,7.7,8.1,8.5,8.0,7.6,8.0,7.5,7.9],
  [9.6,10.0,10.4,10.8,10.3,10.7,11.1,11.5,11.0,11.4,11.8,11.3,10.9,11.3,10.8,11.2,11.6,11.1,10.7,11.1,10.6,10.2,10.6,11.0,10.5,10.1,10.5,10.0,10.4,10.8,10.3,9.9,10.3,9.8,9.4,9.8,10.2,9.7,10.1,9.6,9.2,9.6,10.0,9.5,9.9,9.4,9.0,9.4,9.8,9.3,9.7],
  [10.0,9.5,9.0,9.4,8.9,8.4,8.8,8.3,7.8,8.2,7.7,7.3,7.7,7.2,6.8,7.2,7.6,7.1,6.7,7.1,7.5,7.0,6.6,7.0,7.4,6.9,7.3,7.7,7.2,6.8,7.2,7.6,7.1,7.5,7.9,7.4,7.0,7.4,7.8,7.3,6.9,7.3,7.7,7.2,7.6,8.0,7.5,7.1,7.5,7.9,7.5],
  [10.6,10.2,10.6,10.1,9.7,10.1,9.6,9.2,9.6,9.1,8.7,9.1,8.6,8.2,8.6,9.0,8.5,8.1,8.5,8.9,8.4,8.0,8.4,8.8,8.3,7.9,8.3,7.8,8.2,8.6,8.1,7.7,8.1,8.5,8.0,7.6,8.0,8.4,7.9,7.5,7.9,8.3,7.8,8.2,8.6,8.1,7.7,8.1,8.5,8.0,8.4]
];
var walksD = [
  [10.0,12.0,12.4,12.7,14.2,15.3,15.3,15.4,15.2,14.5,14.4,14.4,14.4,14.0,13.7,13.7,13.7,13.7,13.6,12.2,12.1,12.1,12.1,9.2,9.2,9.2],
  [10.0,10.5,11.8,13.2,13.8,13.9,13.3,12.8,12.0,11.4,11.0,10.6,10.2,10.4,10.1,10.3,10.0,10.2,9.9,10.1,10.3,10.0,10.2,10.4,10.1,10.3],
  [10.0,10.4,10.9,11.5,12.3,12.5,12.4,11.8,11.2,11.0,10.7,10.9,10.6,10.8,10.5,10.7,10.9,10.6,10.8,10.5,10.7,10.4,10.6,10.8,10.5,10.6],
  [10.0,9.0,8.4,7.8,7.9,7.6,6.8,5.8,5.0,5.0,6.2,7.2,7.0,6.8,6.4,6.3,6.4,6.5,6.6,6.8,6.9,7.0,7.1,7.2,7.3,7.2],
  [10.0,8.6,8.3,8.1,8.2,7.6,7.0,6.2,5.6,5.0,5.8,6.4,6.1,6.0,6.2,6.5,6.6,6.7,6.8,6.9,7.0,6.9,7.0,7.1,7.2,7.0],
  [10.0,7.0,6.8,6.5,6.7,6.4,7.5,7.8,7.6,7.7,7.9,7.8,8.0,7.6,7.2,7.3,7.4,7.3,7.2,7.4,7.6,7.5,7.4,7.3,7.4,7.3],
  [10.1,9.3,8.8,8.5,8.2,8.0,7.9,8.1,7.8,8.0,7.9,7.6,7.4,7.6,7.3,7.1,7.0,7.2,7.1,7.0,6.9,7.1,7.0,6.9,6.8,6.9],
  [9.8,8.2,8.3,8.5,8.1,8.4,8.2,8.0,8.3,8.1,8.4,8.6,8.3,8.5,8.8,8.4,8.2,8.0,8.3,8.1,8.2,7.9,8.0,7.8,7.9,7.8],
  [10.2,9.0,8.6,8.2,8.4,8.9,8.4,8.1,7.9,8.0,7.8,8.1,7.9,8.2,8.0,7.7,8.0,7.8,8.1,7.9,8.2,8.0,7.8,8.1,7.9,7.9],
  [10.0,9.4,8.7,8.9,9.1,8.8,9.2,8.7,8.5,8.8,8.4,8.6,8.9,9.3,8.8,8.5,8.2,8.4,8.1,8.3,8.0,8.2,8.4,8.1,7.7,7.6],
  [10.0,10.4,10.1,10.6,10.9,10.5,10.8,11.1,10.7,11.0,11.4,12.3,11.6,11.2,10.9,11.3,11.0,10.7,11.1,11.5,11.2,10.9,11.4,11.1,11.6,11.3],
  [9.9,10.2,9.8,10.1,10.4,10.0,10.3,10.6,10.2,10.5,10.1,10.4,10.7,10.3,10.6,10.2,10.5,10.8,10.4,10.1,10.4,10.7,10.3,10.0,10.3,10.1],
  [10.1,9.7,10.0,10.3,9.9,10.2,10.6,10.9,10.5,10.2,10.6,10.3,10.7,11.0,10.6,10.3,10.7,11.0,10.6,10.9,10.5,10.8,10.4,10.7,10.4,10.6],
  [10.0,9.6,9.9,10.3,10.0,10.4,10.1,9.8,10.2,10.5,10.2,9.9,10.3,10.0,10.4,10.1,10.5,10.2,10.6,10.3,10.0,10.4,10.7,11.2,11.0,11.5],
  [10.2,10.6,10.3,9.9,10.3,10.7,10.4,10.8,10.5,10.1,10.5,10.2,10.6,10.9,10.5,10.8,11.1,12.1,11.8,11.2,10.8,11.1,10.7,10.4,10.7,10.4],
  [9.8,10.1,9.5,9.2,9.6,10.0,9.7,10.1,10.4,10.0,10.3,9.9,10.2,10.5,10.1,10.4,10.0,10.3,9.9,9.6,9.9,9.5,9.3,9.5,9.2,9.4],
  [10.0,9.5,9.2,9.6,9.9,9.5,9.8,10.2,9.9,10.3,10.0,10.4,10.1,10.5,10.2,9.9,10.3,10.0,10.4,10.1,10.5,10.2,9.9,10.2,10.0,10.3],
  [10.1,9.8,10.2,9.8,10.3,9.9,10.4,10.0,10.5,10.1,10.6,10.2,10.7,10.3,10.8,10.4,10.1,10.5,10.2,10.6,10.3,10.0,10.4,10.1,9.8,9.9],
  [10.0,10.5,10.8,11.1,10.7,11.0,10.6,10.9,11.3,10.9,11.2,10.8,11.1,10.7,11.0,10.6,10.9,11.2,10.8,11.1,10.7,11.0,10.6,10.9,10.6,10.8],
  [9.9,9.4,9.0,9.3,9.7,10.1,9.8,10.2,9.9,10.3,10.0,10.4,10.1,10.5,10.2,10.6,10.3,10.7,10.4,10.1,10.5,10.2,10.6,10.3,10.7,10.5],
  [10.0,9.7,9.4,9.8,9.5,9.9,9.6,10.0,9.7,10.1,9.8,10.2,9.9,10.3,10.0,10.4,10.1,10.5,10.2,9.9,10.3,10.0,10.4,10.1,10.5,10.2],
  [10.0,10.3,10.0,10.4,10.1,10.5,10.2,10.6,10.3,10.0,10.4,10.1,10.5,10.2,9.9,10.3,10.6,10.2,10.5,10.9,10.5,10.2,10.6,10.3,10.0,9.8]
];
var walkColorIdxD = [5,6,1,2,1,6,4,3,0,2,0,1,2,3,4,5,6,0,1,2,3,4];
var walksDFine = [
  [10.0,10.3,10.1,10.4,10.2,10.5,10.3,10.6,10.4,10.2,10.5,10.3,10.6,10.4,10.7,10.5,10.3,10.6,10.4,10.7,10.5,10.8,10.6,10.4,10.7,10.5,10.3,10.6,10.4,10.7,10.5,10.8,10.6,10.9,10.7,10.5,10.8,10.6,10.4,10.7,10.5,10.3,10.6,10.4,10.7,10.5,10.8,10.6,10.4,10.6,10.5],
  [9.9,9.7,9.9,9.6,9.8,10.1,9.9,10.2,10.0,9.8,10.1,9.9,10.2,10.0,10.3,10.1,9.9,10.2,10.0,10.3,10.1,9.9,10.2,10.0,9.8,10.1,10.3,10.1,10.4,10.2,10.0,10.3,10.1,9.9,10.2,10.0,10.3,10.1,10.4,10.2,10.0,10.3,10.1,9.9,10.2,10.0,9.8,10.1,9.9,10.2,10.0],
  [10.1,10.4,10.7,10.5,10.8,10.6,10.9,10.7,11.0,10.8,10.6,10.9,10.7,11.0,10.8,11.1,10.9,10.7,11.0,10.8,11.1,10.9,10.7,11.0,10.8,10.6,10.9,10.7,11.0,10.8,10.6,10.9,11.2,11.0,10.8,11.1,10.9,10.7,11.0,10.8,11.1,10.9,10.7,11.0,10.8,10.6,10.9,10.7,10.5,10.8,10.6],
  [10.0,9.6,9.3,9.5,9.2,9.4,9.7,9.5,9.8,9.6,9.9,9.7,10.0,9.8,9.6,9.9,9.7,10.0,9.8,10.1,9.9,9.7,10.0,9.8,10.1,9.9,10.2,10.0,9.8,10.1,9.9,10.2,10.0,9.8,10.1,9.9,10.2,10.0,9.8,9.6,9.9,9.7,10.0,9.8,9.6,9.9,9.7,9.5,9.8,9.6,9.8],
  [10.2,10.5,10.3,10.0,10.3,10.6,10.4,10.7,10.5,10.8,10.6,10.4,10.7,10.5,10.3,10.6,10.4,10.2,10.5,10.3,10.6,10.4,10.7,10.5,10.8,10.6,10.4,10.7,10.5,10.3,10.6,10.4,10.7,10.9,10.7,10.5,10.8,10.6,10.4,10.7,10.5,10.8,10.6,10.9,10.7,10.5,10.3,10.6,10.4,10.2,10.4],
  [9.8,10.1,9.9,10.2,10.0,10.3,10.1,10.4,10.2,10.5,10.3,10.1,10.4,10.2,10.5,10.3,10.6,10.4,10.2,10.5,10.3,10.6,10.4,10.2,10.5,10.3,10.1,10.4,10.2,10.5,10.3,10.6,10.4,10.7,10.5,10.3,10.6,10.4,10.2,10.5,10.3,10.1,10.4,10.2,10.5,10.3,10.6,10.4,10.2,10.3,10.1],
  [10.0,9.4,9.1,8.9,9.2,9.0,9.3,9.6,9.4,9.7,9.5,9.8,9.6,9.9,10.2,10.0,10.3,10.1,10.4,10.2,10.5,10.3,10.6,10.4,10.2,10.5,10.3,10.6,10.8,10.6,10.4,10.7,10.5,10.8,10.6,10.9,10.7,10.5,10.8,10.6,10.4,10.7,10.5,10.3,10.6,10.4,10.7,10.5,10.3,10.6,10.4],
  [10.1,9.8,10.1,9.9,9.6,9.9,9.7,10.0,10.3,10.1,10.4,10.2,10.5,10.3,10.6,10.4,10.7,10.5,10.3,10.6,10.4,10.7,10.5,10.8,10.6,10.4,10.7,10.5,10.8,11.0,10.8,10.6,10.9,10.7,10.5,10.8,10.6,10.9,10.7,10.5,10.8,10.6,10.9,10.7,11.0,10.8,10.6,10.9,10.7,10.5,10.8],
  [10.0,10.2,10.5,10.3,10.6,10.4,10.7,10.5,10.3,10.6,10.4,10.7,10.9,10.7,10.5,10.8,10.6,10.4,10.7,10.5,10.8,10.6,10.4,10.7,10.5,10.8,11.0,10.8,10.6,10.9,10.7,10.5,10.8,10.6,10.4,10.7,10.5,10.8,10.6,10.9,10.7,10.5,10.8,10.6,10.4,10.7,10.5,10.3,10.6,10.4,10.7],
  [9.9,9.6,9.8,9.5,9.7,9.4,9.6,9.9,9.7,10.0,9.8,9.6,9.9,9.7,9.5,9.8,9.6,9.9,9.7,9.5,9.8,9.6,9.9,9.7,10.0,9.8,9.6,9.9,9.7,9.5,9.8,9.6,9.4,9.7,9.5,9.8,9.6,9.9,9.7,9.5,9.8,9.6,9.9,9.7,9.5,9.3,9.6,9.4,9.7,9.5,9.7],
  [10.1,10.4,10.2,10.5,10.3,10.1,10.4,10.2,10.5,10.3,10.6,10.4,10.2,10.5,10.3,10.6,10.4,10.2,10.5,10.7,10.5,10.3,10.6,10.4,10.2,10.5,10.3,10.6,10.4,10.7,10.5,10.3,10.6,10.4,10.2,10.5,10.3,10.1,10.4,10.2,10.5,10.3,10.6,10.4,10.2,10.5,10.7,10.5,10.3,10.6,10.4],
  [10.0,9.5,9.2,8.9,9.1,8.8,9.0,8.7,8.9,9.2,9.0,9.3,9.1,8.8,9.1,8.9,9.2,9.0,8.7,9.0,8.8,9.1,8.9,9.2,9.0,9.3,9.1,8.9,9.2,9.0,9.3,9.1,8.9,9.2,9.0,8.8,9.1,8.9,9.2,9.0,9.3,9.1,9.4,9.2,9.0,9.3,9.1,8.9,9.2,9.0,9.1],
  [10.2,10.6,10.9,11.2,11.0,11.3,11.1,10.9,11.2,11.0,11.3,11.1,10.9,11.2,11.0,10.8,11.1,10.9,11.2,11.0,10.8,11.1,10.9,11.2,11.4,11.2,11.0,11.3,11.1,10.9,11.2,11.0,11.3,11.1,10.9,11.2,11.0,10.8,11.1,10.9,11.2,11.0,10.8,11.1,10.9,11.2,11.0,11.3,11.1,10.9,11.1],
  [9.8,10.0,9.7,9.9,10.2,10.0,10.3,10.1,9.9,10.2,10.0,10.3,10.1,9.9,10.2,10.0,9.8,10.1,9.9,10.2,10.0,10.3,10.1,10.4,10.2,10.0,10.3,10.1,9.9,10.2,10.0,10.3,10.1,10.4,10.2,10.0,9.8,10.1,9.9,10.2,10.0,9.8,10.1,9.9,10.2,10.0,10.3,10.1,9.9,10.1,10.0]
];

var GREEN = '#66ee66', PURPLE = '#7b1c8c', BLUE = '#2b86e0', RED = '#ee2222';
var tickFont = {family:'"Open Sans", sans-serif', size:11};

// draws the grey box and inward MATLAB-style ticks on all four sides
var boxPlugin = {
  id: 'mbox',
  afterDatasetsDraw: function(chart) {
    var ctx = chart.ctx, a = chart.chartArea, sx = chart.scales.x, sy = chart.scales.y;
    ctx.save();
    ctx.strokeStyle = '#a3a3a3';
    ctx.lineWidth = 1;
    ctx.strokeRect(a.left + 0.5, a.top + 0.5, a.right - a.left - 1, a.bottom - a.top - 1);
    ctx.beginPath();
    sx.ticks.forEach(function(t) {
      var p = Math.round(sx.getPixelForValue(t.value)) + 0.5;
      ctx.moveTo(p, a.bottom); ctx.lineTo(p, a.bottom - 5);
      ctx.moveTo(p, a.top); ctx.lineTo(p, a.top + 5);
    });
    sy.ticks.forEach(function(t) {
      var p = Math.round(sy.getPixelForValue(t.value)) + 0.5;
      ctx.moveTo(a.left, p); ctx.lineTo(a.left + 5, p);
      ctx.moveTo(a.right, p); ctx.lineTo(a.right - 5, p);
    });
    ctx.stroke();
    ctx.restore();
  }
};

function makeOptions(box, area, xs, ys) {
  return {
    responsive: false,
    animation: false,
    layout: {autoPadding: false, padding: {left: 0, bottom: 0, top: area.t - box.t, right: box.l + box.w - area.r}},
    plugins: {legend: {display: false}, tooltip: {enabled: false}},
    scales: {
      x: {type: 'linear', min: xs.min, max: xs.max,
          grid: {display: false, drawTicks: false}, border: {display: false},
          ticks: {stepSize: xs.step, padding: 4, maxRotation: 0, autoSkip: false, color: '#262626', font: tickFont,
                  callback: xs.fmt || function(v) { return v; }},
          afterFit: function(s) { s.height = box.t + box.h - area.b; }},
      y: {type: 'linear', min: ys.min, max: ys.max,
          grid: {display: false, drawTicks: false}, border: {display: false},
          ticks: {stepSize: ys.step, padding: 3, autoSkip: false, color: '#262626', font: tickFont},
          afterFit: function(s) { s.width = area.l - box.l; }}
    }
  };
}

function curve(start, step, vals) {
  return vals.map(function(v, i) { return {x: +(start + i * step).toFixed(3), y: v}; });
}
function pairs(arr) { return arr.map(function(p) { return {x: p[0], y: p[1]}; }); }
function zipXY(xs, ys) { return xs.map(function(x, i) { return {x: x, y: ys[i]}; }); }

function fitnessDatasets(start, step, g, p, b, sg, sp, sb, ex, ey, lw) {
  var lineDs = function(vals, col, ord) {
    return {data: curve(start, step, vals), showLine: true, borderColor: col, borderWidth: lw, pointRadius: 0, order: ord};
  };
  var dotDs = function(arr, col, ord) {
    return {data: pairs(arr), showLine: false, pointRadius: 1.4, pointBorderWidth: 0, backgroundColor: col, order: ord};
  };
  return [
    {data: zipXY(ex, ey), showLine: false, pointStyle: 'circle', pointRadius: 3.1, borderColor: RED,
     backgroundColor: 'rgba(0,0,0,0)', borderWidth: 1.3, order: 0},
    lineDs(b, BLUE, 1), dotDs(sb, BLUE, 1),
    lineDs(p, PURPLE, 2), dotDs(sp, PURPLE, 2),
    lineDs(g, GREEN, 3), dotDs(sg, GREEN, 3)
  ];
}

function walkDatasets(walks, times, colorIdx, shift) {
  return walks.map(function(w, k) {
    var c = walkColors[colorIdx ? colorIdx[k] : (k + (shift || 0)) % walkColors.length];
    return {data: w.map(function(v, i) { return {x: times[i], y: v}; }),
            showLine: true, stepped: true, borderColor: c, borderWidth: 1.1, pointRadius: 0};
  });
}

var timeFmt = function(v) { return String(+(v / 10000).toFixed(1)); };

new Chart(document.getElementById('cA'), {
  type: 'scatter',
  data: {datasets: fitnessDatasets(fitAStart, fitAStep, fitAGreen, fitAPurple, fitABlue,
                                   strayAGreen, strayAPurple, strayABlue, ensAx, ensAy, 1.4)},
  options: makeOptions({l:40,t:10,w:420,h:275}, {l:72,t:25,r:446,b:261}, {min:2,max:16,step:2}, {min:-8,max:0,step:1}),
  plugins: [boxPlugin]
});

new Chart(document.getElementById('cB'), {
  type: 'scatter',
  data: {datasets: fitnessDatasets(fitBStart, fitBStep, fitBGreen, fitBPurple, fitBBlue,
                                   strayBGreen, strayBPurple, strayBBlue, ensBx, ensBy, 1.6)},
  options: makeOptions({l:40,t:282,w:420,h:272}, {l:72,t:294,r:446,b:529}, {min:5,max:14,step:1}, {min:-8,max:1,step:1}),
  plugins: [boxPlugin]
});

new Chart(document.getElementById('cC'), {
  type: 'scatter',
  data: {datasets: walkDatasets(walksC, mcTime).concat(walkDatasets(walksCFine, mcTimeFine, null, 3))},
  options: makeOptions({l:515,t:10,w:541,h:275}, {l:548,t:25,r:1043,b:260}, {min:0,max:22000,step:2000,fmt:timeFmt}, {min:2,max:16,step:2}),
  plugins: [boxPlugin]
});

new Chart(document.getElementById('cD'), {
  type: 'scatter',
  data: {datasets: walkDatasets(walksD, mcTime, walkColorIdxD).concat(walkDatasets(walksDFine, mcTimeFine, null, 2))},
  options: makeOptions({l:515,t:284,w:542,h:272}, {l:549,t:295,r:1047,b:529}, {min:0,max:22000,step:2000,fmt:timeFmt}, {min:4,max:16,step:2}),
  plugins: [boxPlugin]
});
</script>
</body>
</html>
